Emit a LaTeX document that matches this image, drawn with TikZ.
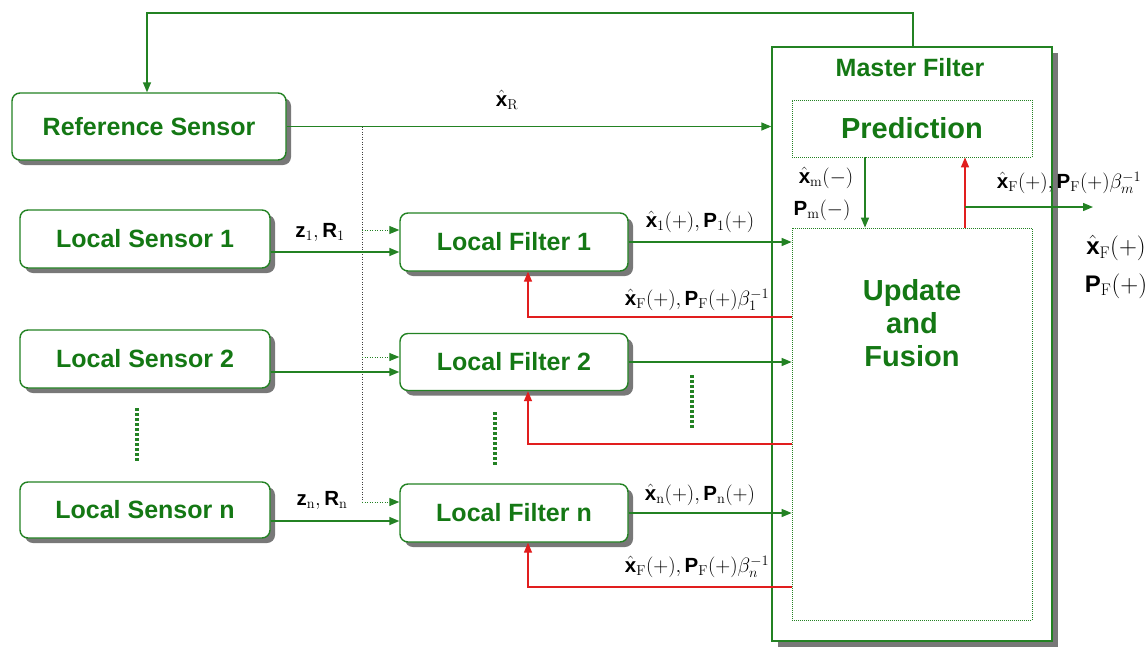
\documentclass[tikz,border=0pt]{standalone}
\usepackage{fontspec}
\setsansfont{Liberation Sans}
\usetikzlibrary{arrows.meta,shadows}
\definecolor{mygreen}{RGB}{20,120,20}
\definecolor{lgreen}{RGB}{35,130,35}
\definecolor{myred}{RGB}{225,30,30}
\definecolor{shgray}{RGB}{120,120,120}
\newcommand{\myxh}{\hat{\hbox{\sffamily\bfseries x}}}
\newcommand{\myP}{\hbox{\sffamily\bfseries P}}
\newcommand{\mybf}[1]{\hbox{\sffamily\bfseries #1}}
\newcommand{\mysub}[1]{_{\mathrm{#1}}}
\begin{document}
\begin{tikzpicture}[x=1pt,y=-1pt,
  box/.style={draw=lgreen, line width=1.4pt, rounded corners=8pt, fill=white, text=mygreen,
    font=\sffamily\bfseries\fontsize{25}{28}\selectfont, inner sep=0pt,
    drop shadow={shadow xshift=5pt, shadow yshift=-5pt, fill=shgray, opacity=1}},
  masterbox/.style={draw=lgreen, line width=1.4pt, fill=white, inner sep=0pt,
    drop shadow={shadow xshift=6pt, shadow yshift=-6pt, fill=shgray, opacity=1}},
  dotbox/.style={draw=lgreen, line width=0.8pt, dash pattern=on 1pt off 1pt, inner sep=0pt,
    text=mygreen, font=\sffamily\bfseries\fontsize{29}{34}\selectfont},
  gtext/.style={text=mygreen, font=\sffamily\bfseries\fontsize{25}{28}\selectfont, inner sep=0pt},
  btext/.style={text=mygreen, font=\sffamily\bfseries\fontsize{29}{34}\selectfont, inner sep=0pt, align=center},
  lbl/.style={font=\fontsize{20.5}{24}\selectfont, inner sep=0pt},
  biglbl/.style={font=\fontsize{24}{27}\selectfont, inner sep=0pt},
  arr/.style={draw=lgreen, line width=1.4pt, -{Triangle[length=10pt,width=8pt]}},
  redarr/.style={draw=myred, line width=1.4pt, -{Triangle[length=10pt,width=8pt]}},
  dotarr/.style={draw=lgreen, line width=1pt, dash pattern=on 1pt off 1.5pt, -{Triangle[length=10pt,width=8pt]}},
  vdot/.style={draw=black!75, line width=1pt, dash pattern=on 1pt off 1.5pt},
  bigdots/.style={draw=lgreen, line width=3.5pt, dash pattern=on 2.5pt off 2.5pt}
]
\useasboundingbox (0,0) rectangle (1148,648);
\fill[white] (0,0) rectangle (1148,648);

% master filter
\node[masterbox, minimum width=280pt, minimum height=594pt] (master) at (912,344) {};
\node[gtext] (mlabel) at (910,68) {Master Filter};
\node[dotbox, minimum width=240pt, minimum height=57pt] (pred) at (912,128.5) {Prediction};
\node[dotbox, minimum width=240pt, minimum height=392pt] (upd) at (912,424) {};
\node[btext] (updtext) at (912,323) {Update\\[-1pt]and\\[-1pt]Fusion};

% sensors
\node[box, minimum width=274pt, minimum height=67pt] (ref) at (149,126.5) {Reference Sensor};
\node[box, minimum width=250pt, minimum height=58pt] (ls1) at (145,239) {Local Sensor 1};
\node[box, minimum width=250pt, minimum height=58pt] (ls2) at (145,359) {Local Sensor 2};
\node[box, minimum width=250pt, minimum height=56pt] (lsn) at (145,510) {Local Sensor n};

% local filters
\node[box, minimum width=228pt, minimum height=58pt] (lf1) at (514,242) {Local Filter 1};
\node[box, minimum width=228pt, minimum height=57pt] (lf2) at (514,362) {Local Filter 2};
\node[box, minimum width=228pt, minimum height=58pt] (lfn) at (514,513) {Local Filter n};

% top feedback
\coordinate (tr) at (913,13);
\coordinate (tl) at (147,13);
\draw[arr] (master.north -| tr) -- (tr) -- (tl) -- (tl |- ref.north);

% reference to master
\draw[arr] (ref.east) -- (ref.east -| master.west);
\node[lbl] (lblR) at (507,100) {$\myxh\mysub{R}$};

% dotted distribution
\coordinate (dt) at (362,126.5);
\coordinate (d1) at (362,230);
\coordinate (d2) at (362,357);
\coordinate (dn) at (362,502);
\draw[vdot] (dt) -- (dn);
\draw[dotarr] (d1) -- (d1 -| lf1.west);
\draw[dotarr] (d2) -- (d2 -| lf2.west);
\draw[dotarr] (dn) -- (dn -| lfn.west);

% sensor to filter
\draw[arr] ([yshift=-13pt]ls1.east) -- ([yshift=-13pt]ls1.east -| lf1.west);
\draw[arr] ([yshift=-13pt]ls2.east) -- ([yshift=-13pt]ls2.east -| lf2.west);
\draw[arr] ([yshift=-11pt]lsn.east) -- ([yshift=-11pt]lsn.east -| lfn.west);
\node[lbl] (lblz1) at (320,232) {$\mybf{z}\mysub{1},\mybf{R}\mysub{1}$};
\node[lbl] (lblzn) at (322,500) {$\mybf{z}\mysub{n},\mybf{R}\mysub{n}$};

% filter outputs
\draw[arr] (lf1.east) -- (lf1.east -| upd.west);
\draw[arr] (lf2.east) -- (lf2.east -| upd.west);
\draw[arr] (lfn.east) -- (lfn.east -| upd.west);
\node[lbl] (lblo1) at (700,222) {$\myxh\mysub{1}(+),\myP\mysub{1}(+)$};
\node[lbl] (lblon) at (700,495) {$\myxh\mysub{n}(+),\myP\mysub{n}(+)$};

% red feedback
\coordinate (r1) at (792,317);
\coordinate (r2) at (792,444);
\coordinate (rn) at (792,587);
\draw[redarr] (r1) -| ([xshift=14pt]lf1.south);
\draw[redarr] (r2) -| ([xshift=14pt]lf2.south);
\draw[redarr] (rn) -| ([xshift=14pt]lfn.south);
\node[lbl] (lblf1) at (697,300) {$\myxh\mysub{F}(+),\myP\mysub{F}(+)\beta_1^{-1}$};
\node[lbl] (lblfn) at (697,567) {$\myxh\mysub{F}(+),\myP\mysub{F}(+)\beta_n^{-1}$};

% prediction <-> update
\draw[arr] ([xshift=-47pt]pred.south) -- ([xshift=-47pt]upd.north);
\draw[redarr] ([xshift=53pt]upd.north) -- ([xshift=53pt]pred.south);
\coordinate (o1) at (965,207);
\coordinate (o2) at (1093,207);
\draw[arr] (o1) -- (o2);
\node[lbl] (lblm1) at (826,178) {$\myxh\mysub{m}(-)$};
\node[lbl] (lblm2) at (822,210) {$\myP\mysub{m}(-)$};
\node[lbl] (lblmo) at (1069,183) {$\myxh\mysub{F}(+),\myP\mysub{F}(+)\beta_m^{-1}$};
\node[biglbl] (lblF1) at (1116,248) {$\myxh\mysub{F}(+)$};
\node[biglbl] (lblF2) at (1116,286) {$\myP\mysub{F}(+)$};

% ellipsis dots
\draw[bigdots] (137,408) -- (137,462);
\draw[bigdots] (495,412) -- (495,465);
\draw[bigdots] (692,375) -- (692,428);
\end{tikzpicture}
\end{document}
